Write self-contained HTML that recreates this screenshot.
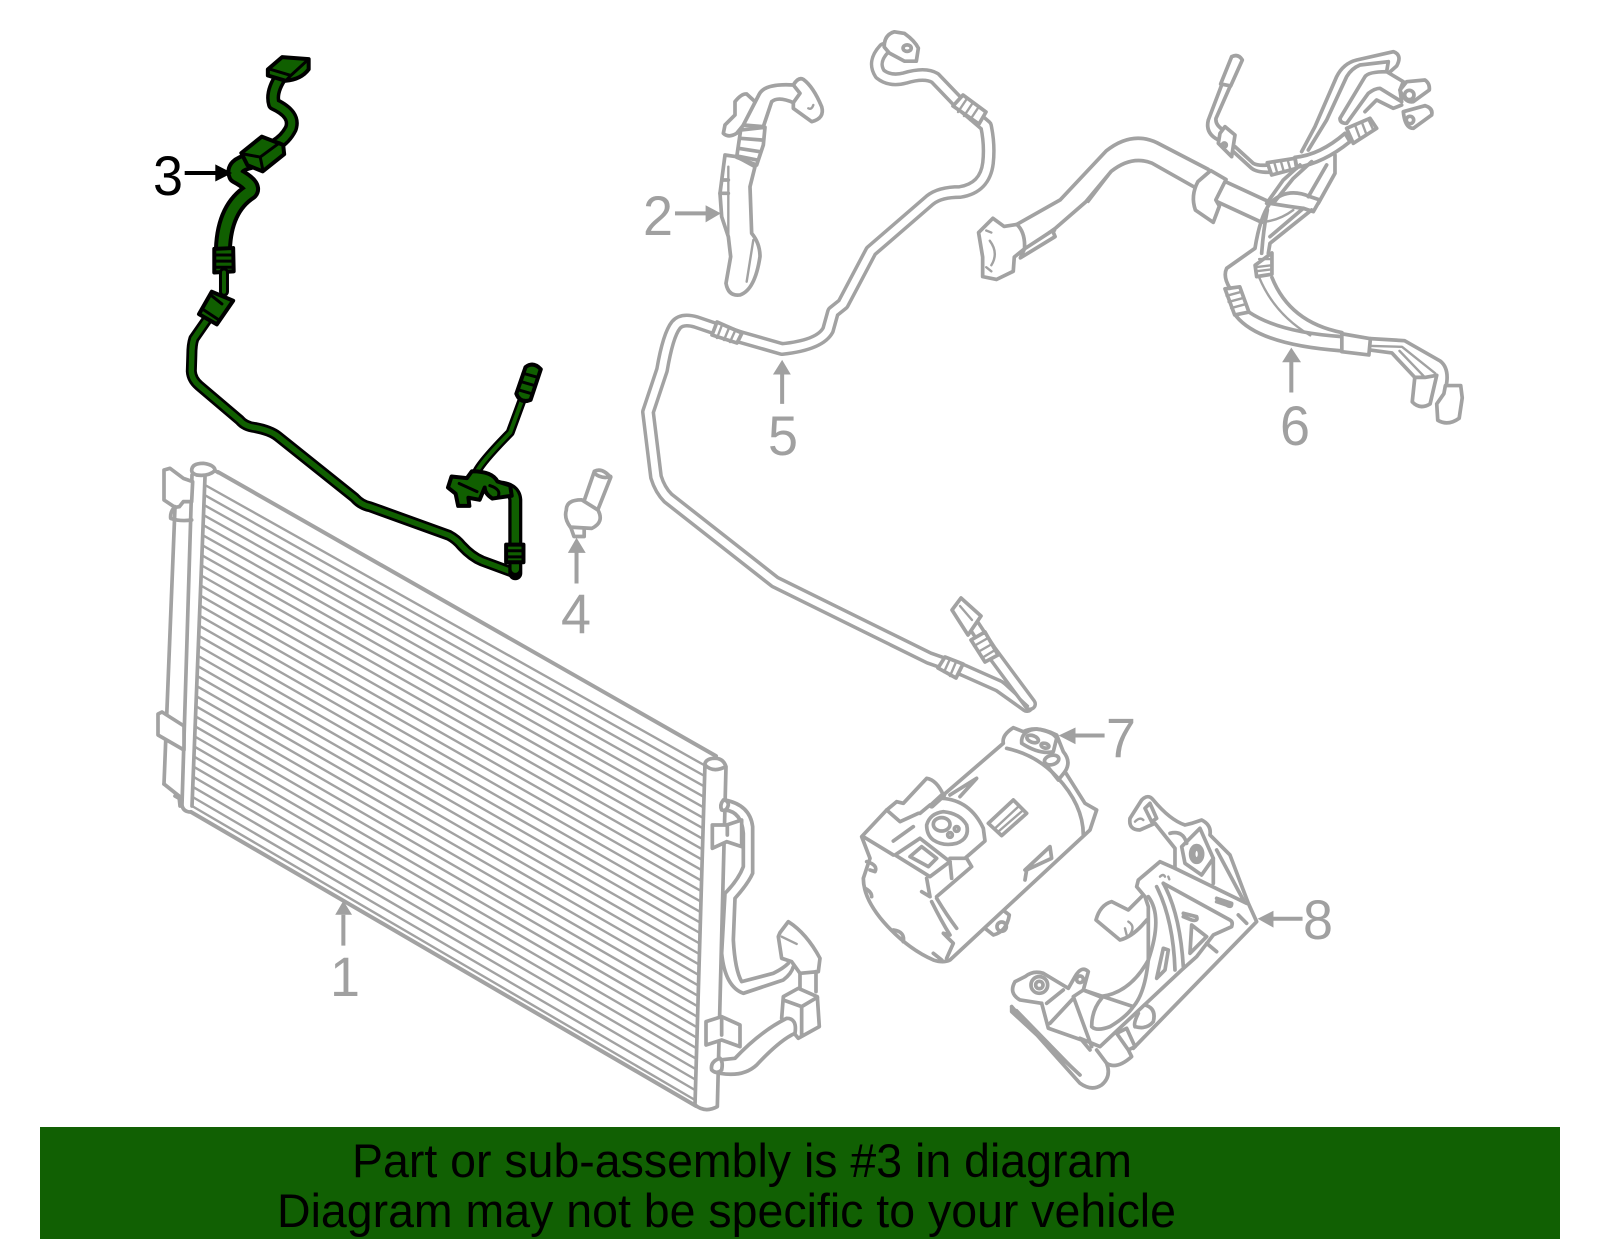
<!DOCTYPE html>
<html><head><meta charset="utf-8"><title>Diagram</title>
<style>
html,body{margin:0;padding:0;background:#fff;width:1600px;height:1249px;overflow:hidden}
svg{display:block}
svg *{vector-effect:non-scaling-stroke}
.g{fill:none;stroke:#a2a2a2;stroke-width:3.7;stroke-linejoin:round;stroke-linecap:round}
.w{fill:#fff}
.t{stroke:#a2a2a2}
.i{stroke:#fff}
.thin{stroke-width:2.4}
.k{fill:none;stroke:#000;stroke-linejoin:round;stroke-linecap:round}
.n{fill:none;stroke:#105f00;stroke-linejoin:round;stroke-linecap:round}
.blk{fill:#105f00;stroke:#000;stroke-width:4;stroke-linejoin:round}
.num{font-family:"Liberation Sans",sans-serif;font-size:56px;fill:#a0a0a0}
.ban{font-family:"Liberation Sans",sans-serif;font-size:47px;fill:#000}
.ag{fill:#a0a0a0;stroke:none}
.al{stroke:#a0a0a0;stroke-width:4;fill:none}
</style></head><body>
<svg xmlns="http://www.w3.org/2000/svg" width="1600" height="1249" viewBox="0 0 1600 1249">
<rect width="1600" height="1249" fill="#fff"/>

<!-- PART 1 condenser -->
<g class="g thin">
<path d="M205,485L704,765M204.6,495.1L703.7,775.5M204.2,505.1L703.4,785.9M203.8,515.2L703.1,796.4M203.4,525.2L702.8,806.9M203,535.3L702.4,817.4M202.6,545.4L702.1,827.8M202.2,555.4L701.8,838.3M201.8,565.5L701.5,848.8M201.3,575.5L701.2,859.2M200.9,585.6L700.9,869.7M200.5,595.7L700.6,880.2M200.1,605.7L700.3,890.6M199.7,615.8L699.9,901.1M199.3,625.8L699.6,911.6M198.9,635.9L699.3,922.1M198.5,646L699,932.5M198.1,656L698.7,943M197.7,666.1L698.4,953.5M197.3,676.1L698.1,963.9M196.9,686.2L697.8,974.4M196.5,696.3L697.4,984.9M196.1,706.3L697.1,995.3M195.7,716.4L696.8,1005.8M195.3,726.4L696.5,1016.3M194.9,736.5L696.2,1026.8M194.4,746.6L695.9,1037.2M194,756.6L695.6,1047.7M193.6,766.7L695.3,1058.2M193.2,776.7L694.9,1068.6M192.8,786.8L694.6,1079.1M192.4,796.9L694.3,1089.6"/>
</g>
<g class="g">
<path d="M218,472L716,756" style="stroke-width:4"/>
<path d="M191,812L696,1106" style="stroke-width:4"/>
<path d="M192,806L695,1100" class="thin"/>
<path d="M192,475L182,805Q183,812 191,812"/>
<path d="M205,477L192,806"/>
<path d="M164,784L175,507"/>
<path d="M164,784L179,796L180,806"/>
<path class="w" d="M158,714L162,712L184,726L184,750L158,735Z"/>
<path d="M175,796L182,800"/>
</g>
<g transform="translate(150,450) scale(.3333)" class="g">
<path class="w" d="M42,60L60,55L100,85L128,95L125,155L100,155L88,170L75,172L42,150Z"/>
<path d="M75,170Q60,185 62,205Q90,215 125,210"/>
<path class="w" d="M125,62Q125,40 160,40Q195,45 195,62Q175,80 140,75Q125,70 125,62Z"/>
<path d="M195,62L205,68"/>
</g>
<g transform="translate(680,740) scale(.3333)" class="g">
<path class="w" d="M75,70L45,1095Q75,1120 112,1100L138,80Q130,55 105,55Q80,55 75,70Z"/>
<path d="M75,75Q100,100 137,80"/>
<path d="M135,180Q210,195 218,260L218,400Q205,430 165,475L160,600Q165,690 185,725L280,700Q310,685 325,670" />
<path d="M135,210Q185,215 190,280L190,380Q175,420 135,460L125,640Q135,740 190,760L310,720Q335,700 340,680"/>
<path class="w" d="M130,180Q118,195 125,210Q140,215 145,195Q145,180 130,180Z"/>
<path class="w" d="M97,255L140,255L185,240L185,320L140,305L97,325Z"/>
<path d="M142,260L142,285"/>
<path class="w" d="M300,578L325,545Q380,580 420,655L415,695L360,700L335,665L305,655L295,590Z"/>
<path class="thin" d="M305,590L350,612"/>
<path d="M360,700L360,745M408,695L408,755"/>
<path class="w" d="M310,770L355,745L412,770L418,860L355,895L305,835Z"/>
<path d="M310,780L365,800L412,772M365,800L365,885"/>
<path class="w" d="M120,960L165,955Q240,875 320,835Q352,835 345,880Q300,900 230,975Q190,1012 120,1000Z"/>
<path class="w" d="M120,955Q90,965 95,990Q110,1005 125,990Q130,965 120,955Z"/>
<path class="w" d="M78,845L125,830L180,855L180,920L125,900L78,915Z"/>
<path d="M125,840L125,885"/>
</g>

<!-- PART 2 -->
<g transform="translate(700,70) scale(.3333)" class="g">
<path class="w" d="M75,255L60,370L65,440L85,500L92,560L78,640Q85,680 120,675Q165,660 180,560Q180,520 155,490L150,350L165,290L110,260Z"/>
<path class="thin" d="M85,290L85,500M160,510L140,635"/>
<path d="M60,370L85,370M70,330L85,330"/>
<path class="w" d="M70,190L75,165L105,135L105,95Q125,70 140,72L165,95L155,135L110,190Q85,205 70,190Z"/>
<path class="w" d="M280,45Q295,20 310,28Q340,50 365,110Q375,145 335,155L280,115L280,85Z"/>
<path class="w" d="M130,165L178,72Q195,40 280,45L300,70L280,98Q235,78 215,95L190,170Z"/>
<path class="w" d="M122,180L195,172L190,225L170,285L110,262Z"/>
<path d="M120,205L185,210M115,235L180,245M110,258L170,270"/>
<path class="thin" d="M325,115Q335,120 340,105"/>
</g>

<!-- PART 3 green -->
<g transform="scale(.5102,.408)">
<path class="k" stroke-width="14" d="M552,185Q530,225 537,255Q580,280 570,315Q560,340 540,355"/>
<path class="n" stroke-width="7" d="M552,185Q530,225 537,255Q580,280 570,315Q560,340 540,355"/>
<path class="blk" d="M525,170L553,140L605,145L605,170Q590,195 560,198L525,185Z"/>
<path class="k" stroke-width="3" d="M530,170L570,185L605,145M570,185L560,198"/>
<path class="k" stroke-width="18" d="M490,395Q455,405 463,430Q500,455 490,470Q440,510 437,610"/>
<path class="n" stroke-width="10" d="M490,395Q455,405 463,430Q500,455 490,470Q440,510 437,610"/>
<path class="blk" d="M473,375L513,335L555,355L557,378L515,420L485,405Z"/>
<path class="k" stroke-width="3" d="M480,378L510,385L548,350M510,385L515,415"/>
<path class="blk" d="M420,610L457,608L458,665L420,668Z"/>
<path class="k" stroke-width="3" d="M420,625L457,625M420,640L457,640M420,655L457,655"/>
<path class="k" stroke-width="10" d="M439,668L439,715"/>
<path class="n" stroke-width="4" d="M439,668L439,715"/>
<path class="k" stroke-width="11" d="M405,785L380,830Q376,845 376,870L375,910Q376,930 390,945L470,1030Q480,1045 500,1048Q530,1055 545,1070L695,1220Q708,1238 725,1242L880,1312Q895,1322 905,1338Q925,1365 945,1375L1010,1405"/>
<path class="n" stroke-width="5.5" d="M405,785L380,830Q376,845 376,870L375,910Q376,930 390,945L470,1030Q480,1045 500,1048Q530,1055 545,1070L695,1220Q708,1238 725,1242L880,1312Q895,1322 905,1338Q925,1365 945,1375L1010,1405"/>
<path class="k" stroke-width="14" d="M1010,1405L1010,1225Q1008,1195 975,1195"/>
<path class="n" stroke-width="7.5" d="M1010,1395L1010,1225Q1008,1195 975,1195"/>
<path class="blk" d="M415,715L457,737L425,795L390,770Z"/>
<path class="k" stroke-width="3" d="M400,760L430,785M415,725L435,745"/>
<path class="blk" d="M992,1335L1026,1335L1026,1378L992,1378Z"/>
<path class="k" stroke-width="3" d="M992,1350L1026,1350M992,1365L1026,1365"/>
<path class="k" stroke-width="9" d="M935,1155Q945,1130 1000,1060L1022,985"/>
<path class="n" stroke-width="4" d="M935,1155Q945,1130 1000,1060L1022,985"/>
<path class="blk" d="M1012,965L1030,900Q1045,885 1060,905L1040,980Q1020,990 1012,965Z"/>
<path class="k" stroke-width="3" d="M1025,915L1055,925M1020,935L1048,945M1015,955L1042,965"/>
<path class="blk" d="M885,1168L915,1172L925,1155Q965,1155 975,1180L1000,1190L1003,1215L965,1222Q950,1210 950,1195L940,1225L918,1220L920,1240L898,1240L893,1210L878,1195Z"/>
<path class="k" stroke-width="3" d="M900,1185L935,1205M960,1190Q985,1200 975,1220"/>
<!-- arrow 3 -->
<path d="M362,424L425,424" style="stroke:#000;stroke-width:4;fill:none"/>
<path d="M422,403L455,424L422,445Z" fill="#000"/>
</g>

<!-- PART 4 bolt -->
<g transform="scale(.5102,.408)" class="g">
<path class="w" d="M1140,1245L1165,1155Q1180,1145 1197,1170L1170,1255Z"/>
<path d="M1165,1160Q1180,1175 1197,1168"/>
<path class="w" d="M1118,1290L1145,1290L1145,1315L1125,1315Z"/>
<path class="w" d="M1110,1250Q1110,1225 1140,1225L1172,1250Q1185,1280 1160,1295L1118,1292Q1105,1270 1110,1250Z"/>
</g>

<!-- PART 5 -->
<defs>
<path id="p5" d="M884,49Q872,62 880,74Q890,82 905,78Q925,72 935,78L958,102L986,126Q990,145 988,163Q985,188 960,192Q940,192 930,200L871,251L843,304Q838,308 833,312L828,330Q820,345 782,349L740,337L696,322Q682,318 676,325Q668,335 662,370L648,412L656,477Q660,490 668,498L775,582L929,658L963,670L999,686L1027,706" fill="none"/>
<path id="p5b" d="M965,612L990,650L1030,704" fill="none"/>
</defs>
<g fill="none" stroke-linecap="round" stroke-linejoin="round">
<use href="#p5" class="t" stroke-width="14"/><use href="#p5" class="i" stroke-width="7"/>
<use href="#p5b" class="t" stroke-width="14"/><use href="#p5b" class="i" stroke-width="7"/>
</g>
<g class="g">
<path class="thin" d="M1000,680L1028,706"/>
<path class="w" d="M953,106L963,95L986,112L979,124Z"/>
<path class="thin" d="M966,100L958,112M972,104L964,116M978,108L970,120"/>
<path class="w" d="M712,335L717,322L742,333L737,343Z"/>
<path class="thin" d="M722,325L717,338M729,328L724,340M735,331L730,342"/>
<path class="w" d="M938,668L945,657L963,664L956,678Z"/>
<path class="thin" d="M950,659L944,672M956,662L950,676"/>
<path class="w" d="M971,640L985,632L998,655L985,662Z"/>
<path class="thin" d="M974,646L988,638M978,652L992,644M982,658L995,650"/>
<path class="w" d="M952,610L961,598L981,616L968,635Z"/>
<path class="thin" d="M960,606L972,620"/>
</g>
<g transform="translate(800,0) scale(.5102,.408)" class="g">
<path class="w" d="M165,115Q165,85 185,78L205,82Q225,100 232,118L228,150L205,150L175,130Z"/>
<circle cx="210" cy="118" r="8"/>
</g>

<!-- PART 6 -->
<g transform="translate(800,0) scale(.5102,.408)" class="g">
<path d="M425,550L510,490L600,370Q650,320 700,350L800,415"/>
<path d="M450,605L500,560L560,495L610,420Q650,380 690,400L775,460"/>
<path d="M825,440L920,495M810,490L905,545"/>
<path class="thin" d="M565,495L605,430M470,600L500,565"/>
<path class="w" d="M378,535L400,555L425,550Q442,570 440,610L420,630L418,665L385,685L358,678L358,630L350,570Z"/>
<path class="thin" d="M372,590Q390,620 375,650M365,565L375,570M365,655L375,665"/>
<path class="w" d="M440,610L495,565L500,580L432,632Z"/>
<path class="w" d="M805,418L835,440L815,490L822,505L810,545L775,515Q765,480 780,445Z"/>
<!-- lower hoses -->
<path d="M855,775Q900,845 1062,860"/>
<path d="M880,765Q940,815 1062,825"/>
<path d="M925,680Q960,790 1062,815"/>
<path class="thin" d="M900,680Q930,770 1000,822"/>
<path class="w" d="M1062,818L1118,830L1115,870L1062,862Z"/>
<path d="M1118,830L1185,835L1255,885Q1275,905 1265,955"/>
<path d="M1118,858L1160,865L1205,925"/>
<path class="thin" d="M1120,848L1180,850L1245,915M1175,860L1225,925"/>
<path class="w" d="M1205,925L1200,985Q1215,1005 1235,990L1248,920L1225,925Z"/>
<path class="w" d="M1265,945L1295,945L1298,975L1292,1025Q1270,1045 1250,1030L1248,990L1262,965Z"/>
<path class="w" d="M833,708L862,703L880,765L852,772Z"/>
<path class="thin" d="M836,725L866,715M840,740L870,730M845,755L875,745"/>
<path class="w" d="M892,650L925,620L925,672L895,678Z"/>
<path class="thin" d="M893,655L925,650M893,665L925,660M900,635L925,635"/>
</g>
<g transform="translate(1180,40) scale(.3333)" class="g">
<path class="w" d="M122,132L155,50Q175,40 187,60L152,138Z"/>
<path d="M125,135L85,240Q75,280 115,300M150,140L108,235Q105,255 130,270"/>
<path class="w" d="M120,280L135,260L165,285L155,350L115,310Z"/>
<circle cx="133" cy="315" r="6"/>
<path d="M160,335L215,385Q230,397 265,397M165,320L220,370Q235,378 262,375"/>
<path d="M365,335L405,260L470,110Q490,70 530,60L640,35Q668,45 650,78L625,100"/>
<path d="M385,330L440,240L500,110Q515,85 540,75L625,65L620,95"/>
<path class="w" d="M480,235L555,110Q565,95 620,95L670,125L660,150L665,185L600,145Q585,145 565,160L500,250Q480,250 480,235Z"/>
<path d="M555,215L590,180L640,205L665,195"/>
<path class="w" d="M660,150L680,125L735,120Q750,130 748,150L700,185Q675,190 660,150Z"/>
<circle class="w" cx="688" cy="165" r="14"/>
<path class="w" d="M670,215L735,197Q760,205 755,225L700,265Q675,265 670,215Z"/>
<circle class="w" cx="690" cy="240" r="11"/>
<path class="w" d="M345,352Q420,345 495,280L510,305Q430,370 350,382Z"/>
<path class="w" d="M500,265L570,235L590,265L520,310Z"/>
<path class="thin" d="M525,255L540,295M545,245L560,285M565,238L580,270"/>
<path class="w" d="M262,368L345,355L350,385L275,405Z"/>
<path class="thin" d="M283,368L292,400M303,365L312,397M323,360L332,392"/>
<path d="M260,490L310,420L360,375M280,490L340,415L395,365"/>
<path d="M465,345L465,400L415,490M440,375L385,470"/>
<path d="M270,490Q320,440 390,470L420,480L400,515L370,505Q330,500 270,490"/>
<path d="M270,490Q240,530 225,625L140,685Q128,710 150,745M262,510Q250,570 245,640"/>
<path d="M395,510L270,610L265,640M370,505L270,590"/>
<path class="thin" d="M255,545Q300,540 340,510"/>
</g>

<!-- PART 7 -->
<g transform="translate(850,715) scale(.3333)" class="g">
<path d="M35,365L110,285L140,260L160,265L230,190Q260,195 280,240L460,85Q455,60 490,38L520,50Q560,30 620,60L640,110Q665,140 645,170L705,265L740,285L720,345L300,735Q280,745 250,735Q170,700 100,620Q40,550 40,490L60,430Z"/>
<path d="M470,100Q560,120 620,185Q700,270 700,360"/>
<path d="M515,75Q520,45 560,42Q610,50 620,70L610,110Q570,120 515,85Z"/>
<ellipse cx="548" cy="72" rx="18" ry="10" transform="rotate(20 548 72)"/>
<ellipse cx="585" cy="92" rx="12" ry="7" transform="rotate(15 585 92)"/>
<ellipse cx="605" cy="135" rx="22" ry="14" transform="rotate(-15 605 135)"/>
<path d="M585,145L625,195L645,170"/>
<path d="M280,240L245,272" style="stroke-width:6"/>
<path d="M300,240L380,190L330,245"/>
<path d="M110,285L150,320L205,295M210,295L240,270M40,365L130,420M130,378L190,335"/>
<path d="M230,330Q240,295 280,290Q330,295 350,330Q360,370 320,385Q280,395 250,375Q230,360 230,330Z"/>
<ellipse cx="275" cy="328" rx="25" ry="20"/>
<circle cx="320" cy="342" r="7"/><circle cx="300" cy="360" r="7"/>
<path d="M275,250Q360,255 400,340L405,378L345,430L300,430"/>
<path d="M135,420L210,370L300,440L240,485Z"/>
<path d="M180,425L215,395L260,430L235,455Z"/>
<path d="M230,490L240,545L215,530M300,440L305,490M350,430L365,455L260,545"/>
<path d="M260,550Q290,600 320,640M245,560Q275,620 300,660L280,655L310,685L290,730"/>
<path d="M415,325L490,255L530,295L455,362Z"/>
<path class="thin" d="M435,340L505,275M445,350L520,285"/>
<path d="M525,465L600,395L605,430L530,465L525,495"/>
<path d="M405,640L430,660Q470,650 478,600L465,590"/>
<circle cx="455" cy="635" r="14"/>
<path d="M50,440Q85,450 75,470L60,465M45,520Q65,530 65,545M130,645Q165,650 160,680M250,715L275,735"/>
</g>

<!-- PART 8 -->
<g transform="translate(1000,780) scale(.3333)" class="g">
<path d="M400,805L770,425L745,370L690,225L630,165Q635,135 605,120L575,130L555,135Q510,120 460,60Q445,40 425,60L390,115Q385,150 420,150L465,130L525,205L525,265L480,245L415,300L410,320L435,350L445,380L445,540Q390,640 300,650L250,630L265,575Q245,555 225,590L205,625L130,580Q100,570 75,590L45,605Q25,640 60,660L125,670"/>
<path d="M35,680L240,910Q275,935 305,915Q335,890 320,850M35,680L35,695L240,885"/>
<path class="thin" d="M50,690L240,885"/>
<path d="M435,85L450,70L470,115L455,125Z"/>
<path class="thin" d="M405,125Q420,110 430,120"/>
<path d="M545,200L600,145L640,235L605,285L555,250Z"/>
<ellipse cx="590" cy="222" rx="18" ry="25"/>
<ellipse cx="590" cy="222" rx="9" ry="15"/>
<path d="M510,160Q550,150 560,190M640,235L640,310M650,210L730,360M525,265L740,370"/>
<path d="M490,310L690,420Q700,425 695,440L640,465L590,530L545,570L300,800L240,775"/>
<path d="M490,310Q540,400 550,560M470,320Q520,420 525,570M445,350Q490,410 445,540"/>
<path d="M650,355L695,370Q695,385 680,375L650,365M550,400L590,410Q595,425 575,420L550,410"/>
<path d="M575,435L620,470L570,520Z"/>
<path d="M620,490L650,515M715,405L740,430"/>
<path d="M430,345L385,390L335,365Q300,375 288,420L360,480Q400,470 440,420"/>
<path class="thin" d="M385,425Q410,440 385,470M375,445L380,465"/>
<path d="M490,505L505,510L495,570L470,595Z"/>
<path d="M445,540Q435,640 400,680M250,630L400,680Q380,710 330,740Q290,755 275,740Q275,690 305,655"/>
<path d="M435,675Q470,685 460,725Q440,750 405,740M415,700Q400,730 405,740"/>
<path d="M125,670L145,745L245,780L270,810M190,630L140,670M220,655L150,730M250,630L220,650L275,800"/>
<path d="M350,760L380,745L405,800L385,810ZM290,810L320,850Q350,870 395,830L385,810"/>
<circle cx="118" cy="615" r="25"/><circle cx="118" cy="615" r="11"/>
<circle cx="240" cy="598" r="10"/>
<path class="thin" d="M480,290Q490,280 495,290M505,290L508,298"/>
</g>

<!-- Arrows -->
<g transform="scale(.5102,.408)">
<path class="al" d="M1323,523L1385,523M1130,1430L1130,1350M1533,990L1533,915"/>
<path class="ag" d="M1383,503L1413,523L1383,545ZM1113,1355L1130,1318L1148,1355ZM1515,918L1533,882L1550,918Z"/>
</g>
<g transform="translate(800,0) scale(.5102,.408)">
<path class="al" d="M963,962L963,885"/>
<path class="ag" d="M945,888L963,852L982,888Z"/>
</g>
<g transform="translate(0,620) scale(.5102,.401)">
<path class="al" d="M673,812L673,735"/>
<path class="ag" d="M657,735L673,700L690,735Z"/>
</g>
<g transform="translate(800,620) scale(.5102,.401)">
<path class="al" d="M597,288L535,288M985,745L925,745"/>
<path class="ag" d="M540,268L507,288L540,310ZM928,725L897,745L928,767Z"/>
</g>

<!-- Labels -->
<text class="num" x="153" y="195" textLength="30" lengthAdjust="spacingAndGlyphs" style="fill:#000">3</text>
<text class="num" x="643" y="235" textLength="30" lengthAdjust="spacingAndGlyphs">2</text>
<text class="num" x="561" y="633" textLength="30" lengthAdjust="spacingAndGlyphs">4</text>
<text class="num" x="768" y="455" textLength="30" lengthAdjust="spacingAndGlyphs">5</text>
<text class="num" x="1280" y="445" textLength="30" lengthAdjust="spacingAndGlyphs">6</text>
<text class="num" x="330" y="996" textLength="30" lengthAdjust="spacingAndGlyphs">1</text>
<text class="num" x="1106" y="757" textLength="30" lengthAdjust="spacingAndGlyphs">7</text>
<text class="num" x="1303" y="939" textLength="30" lengthAdjust="spacingAndGlyphs">8</text>

<!-- Banner -->
<rect x="40" y="1127" width="1520" height="112" fill="#116003"/>
<text class="ban" x="352" y="1177" textLength="780" lengthAdjust="spacingAndGlyphs">Part or sub-assembly is #3 in diagram</text>
<text class="ban" x="277" y="1227" textLength="899" lengthAdjust="spacingAndGlyphs">Diagram may not be specific to your vehicle</text>
</svg>
</body></html>
